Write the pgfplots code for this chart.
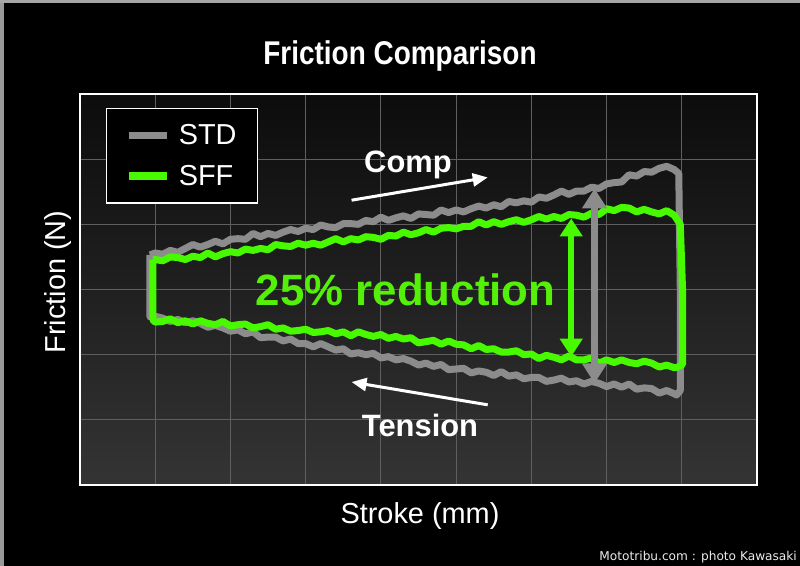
\documentclass[border=0pt]{standalone}
\usepackage{pgfplots}
\pgfplotsset{compat=1.18}
\usetikzlibrary{arrows.meta}
\usepackage{fontspec}
\setmainfont{Liberation Sans}
\newfontfamily\titlefont[FakeStretch=0.85]{Liberation Sans}
\newfontfamily\wmfont{DejaVu Sans}
\definecolor{sffgreen}{RGB}{72,250,0}
\definecolor{txtgreen}{RGB}{84,240,10}
\definecolor{stdgray}{RGB}{140,140,140}
\definecolor{gridgray}{RGB}{95,95,95}
\definecolor{bgtop}{RGB}{12,12,12}
\definecolor{bgbot}{RGB}{52,52,52}
\begin{document}
\begin{tikzpicture}[x=1bp,y=1bp]
\fill[black] (0,0) rectangle (800,566);
\fill[gray!80] (0,0) rectangle (4,566);
\fill[gray!70] (0,563) rectangle (800,566);
\begin{axis}[
  at={(80bp,81bp)}, anchor=south west,
  width=677bp, height=391bp, scale only axis,
  xmin=0, xmax=90, ymin=0, ymax=60,
  xtick={0,10,...,90}, ytick={0,10,...,60},
  xticklabels={}, yticklabels={},
  major tick length=0pt,
  grid=major, major grid style={color=gridgray, line width=0.9bp},
  axis line style={white, line width=1.6bp},
  axis background/.style={top color=bgtop, bottom color=bgbot},
  legend style={at={(0.038,0.964)}, anchor=north west, fill=black, draw=white,
    line width=1.2bp, text=white, font=\fontsize{29}{34}\selectfont,
    inner xsep=19bp, inner ysep=14bp, row sep=15bp},
  legend cell align=left,
  legend image code/.code={\draw[#1, line width=7.5bp, line cap=butt] (0bp,0bp) -- (38bp,0bp);},
  every axis legend/.append style={column sep=6bp},
]
\addplot[stdgray, line width=7bp, line join=round] coordinates {
(9.3,35.3)(10,35.6)(11,35.4)(12,36.0)(13,35.7)(14,36.3)(15,36.9)(16,36.5)(17,36.9)(18,37.4)(19,37.0)
(20,37.7)(21,37.8)(22,37.7)(23,38.6)(24,38.1)(25,38.6)(26,38.3)(27,38.8)(28,39.2)(29,38.9)
(30,39.4)(31,39.2)(32,39.9)(33,39.6)(34,39.5)(35,40.1)(36,40.1)(37,40.0)(38,40.6)(39,40.4)
(40,41.1)(41,40.6)(42,41.0)(43,41.3)(44,40.9)(45,41.6)(46,41.5)(47,41.4)(48,42.2)(49,41.8)
(50,42.2)(51,41.9)(52,42.4)(53,42.8)(54,42.5)(55,43.0)(56,42.7)(57,43.5)(58,43.3)(59,43.6)
(60,43.4)(61,44.2)(62,44.0)(63,44.5)(64,45.1)(65,44.6)(66,45.1)(67,45.1)(68,45.7)(69,45.5)
(70,46.2)(71,46.4)(72,46.5)(73,47.6)(74,47.4)(75,48.1)(76,48.0)(77,48.6)(78,48.9)(79,48.4)
(79.6,47.8)(79.8,30)(79.8,14.5)(79.3,13.8)
(79,14.0)(78,14.5)(77,14.1)(76,14.8)(75,14.9)(74,14.7)(73,15.5)(72,15.0)(71,15.5)(70,15.1)
(69,15.6)(68,15.9)(67,15.5)(66,16.0)(65,15.8)(64,16.4)(63,16.1)(62,15.9)(61,16.5)(60,16.5)
(59,16.3)(58,16.9)(57,16.7)(56,17.4)(55,16.8)(54,17.3)(53,17.5)(52,17.2)(51,17.9)(50,17.8)
(49,17.7)(48,18.5)(47,18.2)(46,18.7)(45,18.4)(44,19.0)(43,19.4)(42,19.2)(41,19.7)(40,19.5)
(39,20.2)(38,20.0)(37,20.3)(36,20.1)(35,20.9)(34,20.7)(33,21.2)(32,21.7)(31,21.2)(30,21.7)
(29,21.7)(28,22.4)(27,22.1)(26,22.7)(25,22.7)(24,22.6)(23,23.5)(22,23.2)(21,23.8)(20,23.6)
(19,24.1)(18,24.5)(17,24.2)(16,24.8)(15,25.2)(14,24.9)(13,25.4)(12,25.1)(11,25.6)(10,25.9)
(9.3,25.8)(9.3,35.3)
};
\addlegendentry{STD}
\addplot[sffgreen, line width=7bp, line join=round] coordinates {
(9.7,34.6)(10,34.6)(11,34.4)(12,35.0)(13,34.9)(14,34.6)(15,35.1)(16,34.9)(17,35.6)(18,35.0)(19,35.5)
(20,35.8)(21,35.6)(22,36.2)(23,36.0)(24,36.3)(25,36.1)(26,36.9)(27,36.7)(28,36.6)(29,37.1)
(30,36.8)(31,37.1)(32,36.8)(33,37.3)(34,37.8)(35,37.3)(36,37.8)(37,37.6)(38,38.1)(39,38.0)
(40,37.7)(41,38.3)(42,38.2)(43,38.8)(44,38.4)(45,38.7)(46,39.2)(47,38.8)(48,39.4)(49,39.5)
(50,39.3)(51,39.7)(52,39.7)(53,40.4)(54,39.9)(55,40.4)(56,40.0)(57,40.4)(58,40.7)(59,40.3)
(60,40.7)(61,41.2)(62,40.8)(63,41.2)(64,40.9)(65,41.5)(66,41.4)(67,41.1)(68,41.7)(69,41.5)
(70,42.4)(71,42.1)(72,42.6)(73,42.5)(74,41.9)(75,42.3)(76,41.9)(77,41.6)(78,42.1)(79,41.4)
(79.8,40.0)(80.1,30)(80.1,18.5)(79.5,18.1)
(79,18.0)(78,18.4)(77,18.1)(76,18.7)(75,19.0)(74,18.6)(73,18.8)(72,19.2)(71,18.8)(70,19.2)
(69,18.7)(68,19.5)(67,19.2)(66,19.2)(65,19.8)(64,19.2)(63,19.6)(62,19.9)(61,19.4)(60,20.1)
(59,20.0)(58,20.6)(57,20.4)(56,20.4)(55,20.9)(54,20.8)(53,21.4)(52,20.9)(51,21.5)(50,21.6)
(49,22.1)(48,21.6)(47,22.2)(46,22.0)(45,21.8)(44,22.6)(43,22.4)(42,22.8)(41,22.5)(40,23.1)
(39,22.8)(38,23.1)(37,23.5)(36,22.9)(35,23.5)(34,23.2)(33,23.7)(32,23.5)(31,23.4)(30,23.9)
(29,23.7)(28,23.6)(27,24.1)(26,23.9)(25,24.6)(24,24.3)(23,24.1)(22,24.7)(21,24.6)(20,24.4)
(19,25.1)(18,24.6)(17,24.8)(16,25.2)(15,24.7)(14,25.2)(13,24.9)(12,25.5)(11,25.1)(10,25.0)
(9.7,25.3)(9.7,34.6)
};
\addlegendentry{SFF}
% annotations
\draw[white, line width=3bp, -{Triangle[length=15bp,width=13bp]}] (axis cs:36.1,43.7) -- (axis cs:54.2,47.2);
\draw[white, line width=3bp, -{Triangle[length=15bp,width=13bp]}] (axis cs:54.2,12.3) -- (axis cs:36.1,15.8);
\draw[stdgray, line width=7bp, {Triangle[length=20bp,width=24bp]}-{Triangle[length=20bp,width=24bp]}] (axis cs:68.4,45.5) -- (axis cs:68.4,15.6);
\draw[sffgreen, line width=6bp, {Triangle[length=18bp,width=22bp]}-{Triangle[length=18bp,width=22bp]}] (axis cs:65.3,40.9) -- (axis cs:65.3,19.7);
\node[anchor=base, text=white, font=\fontsize{31}{36}\selectfont\bfseries] at (axis cs:43.6,48.0) {Comp};
\node[anchor=base, text=white, font=\fontsize{31}{36}\selectfont\bfseries] at (axis cs:45.2,7.4) {Tension};
\node[anchor=base, text=txtgreen, font=\fontsize{44}{50}\selectfont\bfseries] at (axis cs:43.3,27.6) {25\% reduction};
\end{axis}
\node[anchor=base, text=white, font=\titlefont\fontsize{33}{38}\selectfont\bfseries] at (400,501) {Friction Comparison};
\node[anchor=base, text=white, rotate=90, font=\fontsize{29}{34}\selectfont] at (65,284) {Friction (N)};
\node[anchor=base, text=white, font=\fontsize{29}{34}\selectfont] at (420,42) {Stroke (mm)};
\node[anchor=base east, text=white!92!black, font=\wmfont\fontsize{12.2}{14}\selectfont, inner sep=0pt] at (797,5) {Mototribu.com : photo Kawasaki};
\end{tikzpicture}
\end{document}
